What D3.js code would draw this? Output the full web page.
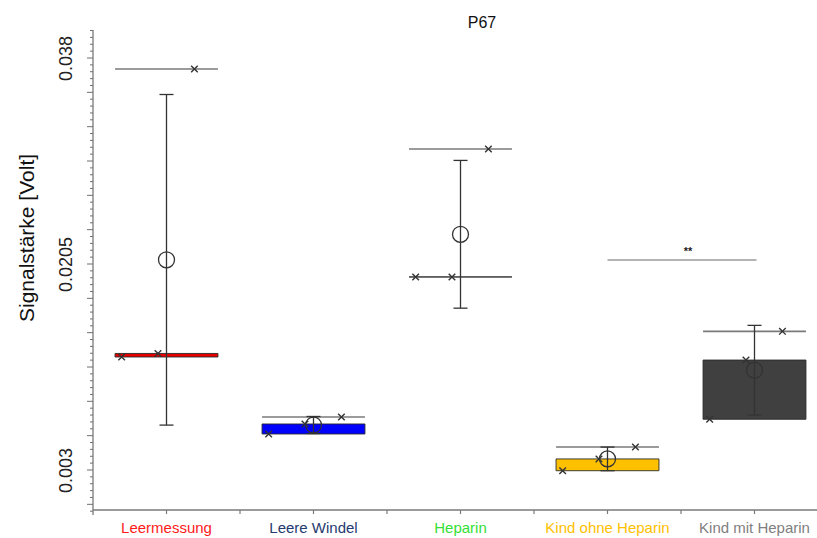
<!DOCTYPE html>
<html>
<head>
<meta charset="utf-8">
<script src="https://cdn.jsdelivr.net/npm/d3@7"></script>
<style>
  html, body { margin: 0; padding: 0; background: #fff; }
  svg { display: block; font-family: "Liberation Sans", Arial, sans-serif; }
</style>
</head>
<body>
<svg id="chart" width="817" height="538"></svg>
<script>
// ---- data -------------------------------------------------------------
const categories = ["Leermessung", "Leere Windel", "Heparin", "Kind ohne Heparin", "Kind mit Heparin"];

// three measurements per group (Volt), sorted ascending
const leermessung     = [0.01260, 0.01290, 0.03707];
const leereWindel     = [0.00606, 0.00691, 0.00750];
const heparin         = [0.01940, 0.01940, 0.03027];
const kindOhneHeparin = [0.00294, 0.00394, 0.00495];
const kindMitHeparin  = [0.00731, 0.01234, 0.01478];

const seriesValues = [leermessung, leereWindel, heparin, kindOhneHeparin, kindMitHeparin];

const yTickLabels = [0.003, 0.0205, 0.038];

const sigPair = ["Kind ohne Heparin", "Kind mit Heparin"];
const sigLevel = 0.02084;
const sigText = "**";

const titleText = "P67";
const yTitle = "Signalstärke [Volt]";

// ---- styles -----------------------------------------------------------
const boxFill    = ["#e80000", "#0000ff", "#00b050", "#ffc000", "#404040"];
const labelColor = ["#ff1a1a", "#253a6e", "#33e033", "#ffc000", "#808080"];
const jitter = [-0.305, -0.058, 0.19];   // horizontal offset of the points, as share of the band

// ---- layout -----------------------------------------------------------
const svg = d3.select("#chart");
const axisX = 93, axisY = 510;

const x = d3.scaleBand().domain(categories).range([axisX, axisX + 147 * categories.length]);
const bw = x.bandwidth();
const boxW = bw * 0.70;
const cx = c => x(c) + bw / 2;

const y = d3.scaleLinear().domain([0.003, 0.038]).range([470, 58]);

// stats per group
const groups = categories.map((c, i) => {
  const v = seriesValues[i].slice().sort(d3.ascending);
  return {
    cat: c, i, v,
    min: v[0], med: d3.median(v), max: v[v.length - 1],
    mean: d3.mean(v), sd: d3.deviation(v)
  };
});

// ---- y axis -----------------------------------------------------------
const step = 0.035 / 60;
const yTop = y.invert(30), yBot = y.invert(515);
const minor = [], major = [];
for (let k = Math.ceil((yBot - 0.003) / step); 0.003 + k * step <= yTop; k++) {
  const val = 0.003 + k * step;
  (k % 5 === 0 ? major : minor).push(val);
}

const gy = svg.append("g").attr("transform", `translate(${axisX},0)`);
gy.append("line").attr("x1", 0).attr("x2", 0).attr("y1", 30).attr("y2", 515)
  .attr("stroke", "#6f6f6f").attr("stroke-width", 1.2);
gy.selectAll(".minor").data(minor).join("line")
  .attr("x1", -3).attr("x2", 0).attr("y1", d => y(d)).attr("y2", d => y(d))
  .attr("stroke", "#6f6f6f").attr("stroke-width", 1);
gy.selectAll(".major").data(major).join("line")
  .attr("x1", -6).attr("x2", 0).attr("y1", d => y(d)).attr("y2", d => y(d))
  .attr("stroke", "#6f6f6f").attr("stroke-width", 1);

const yLabels = d3.axisLeft(y).tickValues(yTickLabels).tickSize(0).tickFormat(d3.format(""));
const gyl = svg.append("g").attr("transform", `translate(${axisX},0)`).call(yLabels);
gyl.select(".domain").remove();
gyl.selectAll("text")
  .attr("transform", "rotate(-90)")
  .attr("x", 0).attr("y", -27).attr("dy", "0.35em")
  .attr("text-anchor", "middle")
  .attr("font-size", 18).attr("fill", "#222")
  .style("font-family", "Liberation Sans, Arial, sans-serif");

svg.append("text")
  .attr("transform", `translate(27,238) rotate(-90)`)
  .attr("text-anchor", "middle").attr("dy", "0.35em")
  .attr("font-size", 21).attr("fill", "#111")
  .text(yTitle);

// ---- x axis -----------------------------------------------------------
const gx = svg.append("g");
gx.append("line").attr("x1", axisX).attr("x2", 817).attr("y1", axisY).attr("y2", axisY)
  .attr("stroke", "#7a7a7a").attr("stroke-width", 1.5);
const xTicks = [];
categories.forEach(c => { xTicks.push(cx(c)); xTicks.push(x(c) + bw); });
gx.selectAll(".xt").data(xTicks).join("line")
  .attr("x1", d => d).attr("x2", d => d).attr("y1", axisY).attr("y2", axisY + 4)
  .attr("stroke", "#7a7a7a").attr("stroke-width", 1.2);
gx.selectAll(".xl").data(categories).join("text")
  .attr("x", d => cx(d)).attr("y", 533)
  .attr("text-anchor", "middle").attr("font-size", 15)
  .attr("fill", (d, i) => labelColor[i])
  .text(d => d);

// ---- title ------------------------------------------------------------
svg.append("text").attr("x", 482).attr("y", 28).attr("text-anchor", "middle")
  .attr("font-size", 16).attr("fill", "#111").text(titleText);

// ---- groups -----------------------------------------------------------
const g = svg.append("g");

// boxes from lowest value to median (drawn as a path so a flat box still shows)
g.selectAll(".box").data(groups).join("path")
  .attr("d", d => {
    const x0 = cx(d.cat) - boxW / 2, x1 = cx(d.cat) + boxW / 2;
    const y0 = y(d.med), y1 = y(d.min);
    return `M${x0},${y0}H${x1}V${y1}H${x0}Z`;
  })
  .attr("fill", d => boxFill[d.i]).attr("stroke", "#2a2a2a").attr("stroke-width", 0.9);

// line at the highest value
g.selectAll(".maxl").data(groups).join("line")
  .attr("x1", d => cx(d.cat) - boxW / 2).attr("x2", d => cx(d.cat) + boxW / 2)
  .attr("y1", d => y(d.max)).attr("y2", d => y(d.max))
  .attr("stroke", "#7a7a7a").attr("stroke-width", 1.6);

// error bars: mean ± standard deviation
const eb = g.selectAll(".eb").data(groups).join("g").attr("stroke", "#333").attr("stroke-width", 1.3);
eb.append("line").attr("x1", d => cx(d.cat)).attr("x2", d => cx(d.cat))
  .attr("y1", d => y(d.mean + d.sd)).attr("y2", d => y(d.mean - d.sd));
eb.append("line").attr("x1", d => cx(d.cat) - 7).attr("x2", d => cx(d.cat) + 7)
  .attr("y1", d => y(d.mean + d.sd)).attr("y2", d => y(d.mean + d.sd));
eb.append("line").attr("x1", d => cx(d.cat) - 7).attr("x2", d => cx(d.cat) + 7)
  .attr("y1", d => y(d.mean - d.sd)).attr("y2", d => y(d.mean - d.sd));

// mean circles
g.selectAll(".mean").data(groups).join("circle")
  .attr("cx", d => cx(d.cat)).attr("cy", d => y(d.mean)).attr("r", 8)
  .attr("fill", "none").attr("stroke", "#333").attr("stroke-width", 1.3);

// individual measurements as crosses
const pts = [];
groups.forEach(d => d.v.forEach((v, k) => pts.push({ px: cx(d.cat) + jitter[k] * bw, v })));
const cross = d3.symbol().type(d3.symbolX).size(30);
g.selectAll(".pt").data(pts).join("path")
  .attr("transform", d => `translate(${d.px},${y(d.v)})`)
  .attr("d", cross).attr("fill", "none").attr("stroke", "#333").attr("stroke-width", 1.4);

// significance bracket
const sx1 = cx(sigPair[0]), sx2 = cx(sigPair[1]) + 2;
svg.append("line").attr("x1", sx1).attr("x2", sx2).attr("y1", y(sigLevel)).attr("y2", y(sigLevel))
  .attr("stroke", "#9a9a9a").attr("stroke-width", 1.5);
svg.append("text").attr("x", (sx1 + sx2) / 2 + 6).attr("y", y(sigLevel) - 5)
  .attr("text-anchor", "middle").attr("font-size", 11).attr("font-weight", "bold")
  .attr("fill", "#222").text(sigText);
</script>
</body>
</html>
